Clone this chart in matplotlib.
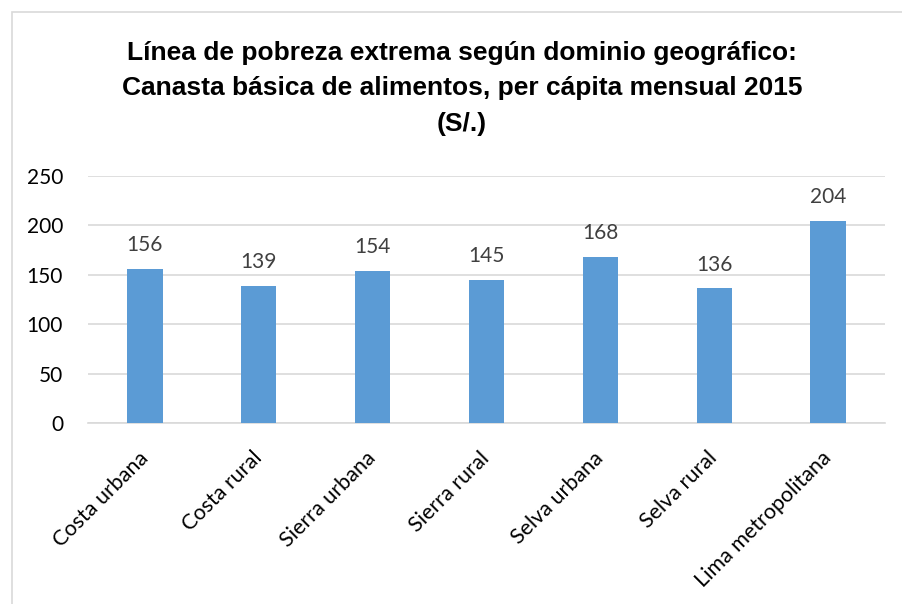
import matplotlib
matplotlib.use("Agg")
import matplotlib.pyplot as plt
from matplotlib.patches import Rectangle

categories = ["Costa urbana", "Costa rural", "Sierra urbana", "Sierra rural",
              "Selva urbana", "Selva rural", "Lima metropolitana"]
values = [156, 139, 154, 145, 168, 136, 204]
yticks = [0, 50, 100, 150, 200, 250]
title = ("Línea de pobreza extrema según dominio geográfico:\n"
         "Canasta básica de alimentos, per cápita mensual 2015\n(S/.)")

W, H = 902, 604
fig = plt.figure(figsize=(W / 100, H / 100), dpi=100)
fig.patch.set_facecolor("white")

# chart border
fig.add_artist(Rectangle((12 / W, -0.01), 1.0, 1 - 12 / H + 0.01, transform=fig.transFigure,
                         fill=False, edgecolor="#D9D9D9", linewidth=1.2))

ax = fig.add_axes([88 / W, 1 - 423 / H, (885 - 88) / W, (423 - 175.7) / H])
x = range(len(categories))
bars = ax.bar(x, values, width=0.31, color="#5B9BD5", zorder=3)
ax.set_xlim(-0.5, len(categories) - 0.5)
ax.set_ylim(0, 250)
ax.set_yticks(yticks)
ax.set_yticklabels([str(t) for t in yticks], fontfamily="Lato", fontsize=15, color="#000000")
ax.grid(axis="y", color="#D9D9D9", linewidth=1.2, zorder=0)
for s in ["top", "right", "left"]:
    ax.spines[s].set_visible(False)
ax.spines["bottom"].set_color("#D9D9D9")
ax.spines["bottom"].set_linewidth(1.2)
ax.tick_params(axis="y", length=0, pad=18)
ax.tick_params(axis="x", length=0, pad=23)
ax.set_xticks(list(x))
ax.set_xticklabels(categories, rotation=45, ha="right", va="center", rotation_mode="anchor",
                   fontfamily="Lato", fontsize=15.5, color="#000000")

for xi, v in zip(x, values):
    ax.annotate(str(v), (xi, v), xytext=(0, 10), textcoords="offset points",
                ha="center", va="bottom", fontfamily="Lato", fontsize=15, color="#404040")

fig.text(462 / W, 1 - 88.5 / H, title, ha="center", va="center", fontfamily="Liberation Sans",
         fontweight="bold", fontsize=19, linespacing=1.63)

fig.savefig("out.png", dpi=100, facecolor="white")
